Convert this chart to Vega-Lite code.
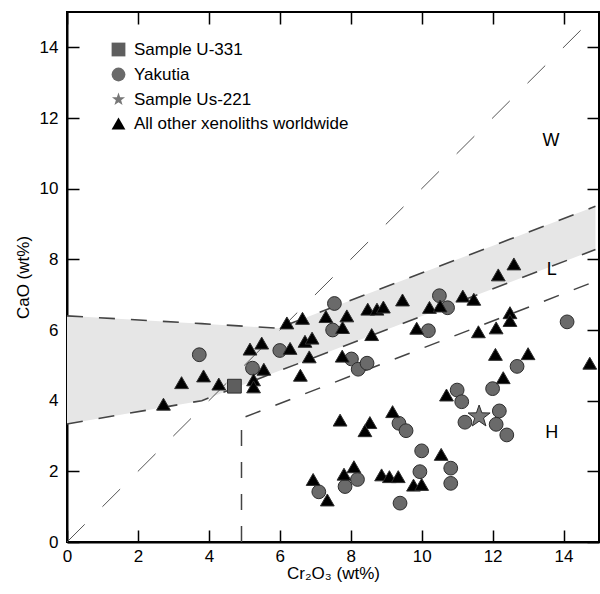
{
  "$schema": "https://vega.github.io/schema/vega-lite/v6.json",
  "width": 532,
  "height": 530,
  "autosize": "none",
  "padding": {"left": 67, "top": 12, "right": 1, "bottom": 52},
  "config": {
    "view": {"stroke": "#000", "strokeWidth": 2},
    "font": "Liberation Sans",
    "axis": {
      "labelFlush": false, "labelFontSize": 17, "labelColor": "#000", "labelOverlap": false,
      "ticks": false, "tickSize": 0,
      "domainColor": "#000", "domainWidth": 2,
      "grid": true, "gridColor": "#000", "gridOpacity": 1, "gridWidth": 1.5,
      "titleFontSize": 17, "titleFontWeight": "normal", "titleColor": "#000",
      "zindex": 1
    },
    "legend": {"padding": 0, "labelFontSize": 17, "labelColor": "#000", "symbolSize": 190, "rowPadding": 6, "labelOffset": 7, "labelLimit": 400, "symbolStrokeColor": "#2e2e2e", "symbolStrokeWidth": 1, "symbolOpacity": 1}
  },
  "datasets": {
    "band": [
      {"x": 0, "lower": 3.34, "upper": 6.40},
      {"x": 3.8, "lower": 4.0, "upper": 6.18},
      {"x": 5.95, "lower": 4.83, "upper": 6.05},
      {"x": 14.9, "lower": 8.28, "upper": 9.50}
    ],
    "hline": [
      {"x": 4.92, "y": 0},
      {"x": 4.92, "y": 3.50},
      {"x": 14.95, "y": 7.40}
    ],
    "diag": [
      {"x": 0, "y": 0},
      {"x": 14.5, "y": 14.5}
    ],
    "zones": [
      {"label": "W", "x": 13.65, "y": 11.35},
      {"label": "L", "x": 13.67, "y": 7.70},
      {"label": "H", "x": 13.67, "y": 3.09}
    ],
    "pts": [
      {"grp": "Yakutia", "x": 3.73, "y": 5.30},
      {"grp": "Yakutia", "x": 6.00, "y": 5.42},
      {"grp": "Yakutia", "x": 5.23, "y": 4.92},
      {"grp": "Yakutia", "x": 7.54, "y": 6.75},
      {"grp": "Yakutia", "x": 7.49, "y": 6.00},
      {"grp": "Yakutia", "x": 8.02, "y": 5.18},
      {"grp": "Yakutia", "x": 8.21, "y": 4.89},
      {"grp": "Yakutia", "x": 8.46, "y": 5.06},
      {"grp": "Yakutia", "x": 10.19, "y": 5.98},
      {"grp": "Yakutia", "x": 10.50, "y": 6.97},
      {"grp": "Yakutia", "x": 10.73, "y": 6.63},
      {"grp": "Yakutia", "x": 14.10, "y": 6.23},
      {"grp": "Yakutia", "x": 12.69, "y": 4.97},
      {"grp": "Yakutia", "x": 11.00, "y": 4.30},
      {"grp": "Yakutia", "x": 12.00, "y": 4.34},
      {"grp": "Yakutia", "x": 11.13, "y": 3.97},
      {"grp": "Yakutia", "x": 12.19, "y": 3.71},
      {"grp": "Yakutia", "x": 11.22, "y": 3.39},
      {"grp": "Yakutia", "x": 12.10, "y": 3.33},
      {"grp": "Yakutia", "x": 12.40, "y": 3.03},
      {"grp": "Yakutia", "x": 10.82, "y": 2.09},
      {"grp": "Yakutia", "x": 10.82, "y": 1.66},
      {"grp": "Yakutia", "x": 9.36, "y": 3.36},
      {"grp": "Yakutia", "x": 9.56, "y": 3.15},
      {"grp": "Yakutia", "x": 10.00, "y": 2.58},
      {"grp": "Yakutia", "x": 9.95, "y": 1.99},
      {"grp": "Yakutia", "x": 7.10, "y": 1.42},
      {"grp": "Yakutia", "x": 7.84, "y": 1.57},
      {"grp": "Yakutia", "x": 8.19, "y": 1.77},
      {"grp": "Yakutia", "x": 9.39, "y": 1.10},
      {"grp": "All other xenoliths worldwide", "x": 2.72, "y": 3.90},
      {"grp": "All other xenoliths worldwide", "x": 3.23, "y": 4.51},
      {"grp": "All other xenoliths worldwide", "x": 3.85, "y": 4.70},
      {"grp": "All other xenoliths worldwide", "x": 4.28, "y": 4.47},
      {"grp": "All other xenoliths worldwide", "x": 5.16, "y": 5.46},
      {"grp": "All other xenoliths worldwide", "x": 5.49, "y": 5.63},
      {"grp": "All other xenoliths worldwide", "x": 5.55, "y": 4.89},
      {"grp": "All other xenoliths worldwide", "x": 5.26, "y": 4.59},
      {"grp": "All other xenoliths worldwide", "x": 5.26, "y": 4.39},
      {"grp": "All other xenoliths worldwide", "x": 6.20, "y": 6.20},
      {"grp": "All other xenoliths worldwide", "x": 6.64, "y": 6.33},
      {"grp": "All other xenoliths worldwide", "x": 7.30, "y": 6.38},
      {"grp": "All other xenoliths worldwide", "x": 7.89, "y": 6.40},
      {"grp": "All other xenoliths worldwide", "x": 8.48, "y": 6.59},
      {"grp": "All other xenoliths worldwide", "x": 8.74, "y": 6.59},
      {"grp": "All other xenoliths worldwide", "x": 8.92, "y": 6.65},
      {"grp": "All other xenoliths worldwide", "x": 9.46, "y": 6.85},
      {"grp": "All other xenoliths worldwide", "x": 6.29, "y": 5.48},
      {"grp": "All other xenoliths worldwide", "x": 6.71, "y": 5.68},
      {"grp": "All other xenoliths worldwide", "x": 6.91, "y": 5.77},
      {"grp": "All other xenoliths worldwide", "x": 6.83, "y": 5.24},
      {"grp": "All other xenoliths worldwide", "x": 6.58, "y": 4.72},
      {"grp": "All other xenoliths worldwide", "x": 7.77, "y": 6.07},
      {"grp": "All other xenoliths worldwide", "x": 7.76, "y": 5.26},
      {"grp": "All other xenoliths worldwide", "x": 8.59, "y": 5.87},
      {"grp": "All other xenoliths worldwide", "x": 9.86, "y": 6.05},
      {"grp": "All other xenoliths worldwide", "x": 10.22, "y": 6.64},
      {"grp": "All other xenoliths worldwide", "x": 10.52, "y": 6.68},
      {"grp": "All other xenoliths worldwide", "x": 11.16, "y": 6.96},
      {"grp": "All other xenoliths worldwide", "x": 11.47, "y": 6.87},
      {"grp": "All other xenoliths worldwide", "x": 12.16, "y": 7.56},
      {"grp": "All other xenoliths worldwide", "x": 12.60, "y": 7.87},
      {"grp": "All other xenoliths worldwide", "x": 11.60, "y": 5.95},
      {"grp": "All other xenoliths worldwide", "x": 12.10, "y": 6.06},
      {"grp": "All other xenoliths worldwide", "x": 12.49, "y": 6.49},
      {"grp": "All other xenoliths worldwide", "x": 12.49, "y": 6.27},
      {"grp": "All other xenoliths worldwide", "x": 12.08, "y": 5.31},
      {"grp": "All other xenoliths worldwide", "x": 13.00, "y": 5.33},
      {"grp": "All other xenoliths worldwide", "x": 12.30, "y": 4.65},
      {"grp": "All other xenoliths worldwide", "x": 14.74, "y": 5.06},
      {"grp": "All other xenoliths worldwide", "x": 10.70, "y": 4.16},
      {"grp": "All other xenoliths worldwide", "x": 10.55, "y": 2.48},
      {"grp": "All other xenoliths worldwide", "x": 7.70, "y": 3.45},
      {"grp": "All other xenoliths worldwide", "x": 8.54, "y": 3.38},
      {"grp": "All other xenoliths worldwide", "x": 8.40, "y": 3.15},
      {"grp": "All other xenoliths worldwide", "x": 9.18, "y": 3.69},
      {"grp": "All other xenoliths worldwide", "x": 6.94, "y": 1.77},
      {"grp": "All other xenoliths worldwide", "x": 7.34, "y": 1.19},
      {"grp": "All other xenoliths worldwide", "x": 7.81, "y": 1.92},
      {"grp": "All other xenoliths worldwide", "x": 8.09, "y": 2.13},
      {"grp": "All other xenoliths worldwide", "x": 8.87, "y": 1.90},
      {"grp": "All other xenoliths worldwide", "x": 9.09, "y": 1.85},
      {"grp": "All other xenoliths worldwide", "x": 9.34, "y": 1.85},
      {"grp": "All other xenoliths worldwide", "x": 9.77, "y": 1.61},
      {"grp": "All other xenoliths worldwide", "x": 10.00, "y": 1.63},
      {"grp": "Sample U-331", "x": 4.72, "y": 4.41}
    ],
    "star": [
      {"grp": "Sample Us-221", "x": 11.62, "y": 3.55}
    ]
  },
  "resolve": {"axis": {"x": "independent", "y": "independent"}},
  "layer": [
    {
      "data": {"name": "band"},
      "mark": {"type": "area", "color": "#e6e6e6", "opacity": 1},
      "encoding": {
        "x": {"field": "x", "type": "quantitative", "scale": {"domain": [0, 15], "nice": false, "zero": false},
          "axis": {"orient": "bottom", "values": [0, 2, 4, 6, 8, 10, 12, 14], "labelPadding": 6,
            "title": "Cr₂O₃ (wt%)", "titlePadding": 1, "gridDash": [12, 506, 12]}},
        "y": {"field": "lower", "type": "quantitative", "scale": {"domain": [0, 15], "nice": false, "zero": false},
          "axis": {"orient": "left", "values": [0, 2, 4, 6, 8, 10, 12, 14], "labelPadding": 9,
            "title": "CaO (wt%)", "titlePadding": 7, "gridDash": [12, 508, 12]}},
        "y2": {"field": "upper"}
      }
    },
    {
      "data": {"name": "band"},
      "mark": {"type": "line", "color": "#444", "strokeWidth": 1.6, "strokeDash": [16, 16]},
      "encoding": {
        "x": {"field": "x", "type": "quantitative",
          "axis": {"orient": "top", "values": [1, 3, 5, 7, 9, 11, 13], "labels": false, "domain": false, "title": null, "gridDash": [8, 514, 8]}},
        "y": {"field": "upper", "type": "quantitative",
          "axis": {"orient": "right", "values": [1, 3, 5, 7, 9, 11, 13], "labels": false, "domain": false, "title": null, "gridDash": [8, 516, 8]}}
      }
    },
    {
      "data": {"name": "band"},
      "mark": {"type": "line", "color": "#444", "strokeWidth": 1.6, "strokeDash": [16, 16]},
      "encoding": {
        "x": {"field": "x", "type": "quantitative", "axis": null},
        "y": {"field": "lower", "type": "quantitative", "axis": null}
      }
    },
    {
      "data": {"name": "hline"},
      "mark": {"type": "line", "color": "#444", "strokeWidth": 1.5, "strokeDash": [16, 16]},
      "encoding": {
        "x": {"field": "x", "type": "quantitative", "axis": null},
        "y": {"field": "y", "type": "quantitative", "axis": null},
        "order": {"value": null}
      }
    },
    {
      "data": {"name": "diag"},
      "mark": {"type": "line", "color": "#555", "strokeWidth": 1, "strokeDash": [25, 25]},
      "encoding": {
        "x": {"field": "x", "type": "quantitative", "axis": null},
        "y": {"field": "y", "type": "quantitative", "axis": null}
      }
    },
    {
      "data": {"name": "zones"},
      "mark": {"type": "text", "fontSize": 18, "color": "#000", "align": "center", "baseline": "middle"},
      "encoding": {
        "x": {"field": "x", "type": "quantitative", "axis": null},
        "y": {"field": "y", "type": "quantitative", "axis": null},
        "text": {"field": "label"}
      }
    },
    {
      "data": {"name": "pts"},
      "mark": {"type": "point", "filled": true, "opacity": 1, "stroke": "#2e2e2e", "strokeWidth": 1, "size": 190},
      "encoding": {
        "x": {"field": "x", "type": "quantitative", "axis": null},
        "y": {"field": "y", "type": "quantitative", "axis": null},
        "shape": {"field": "grp", "type": "nominal", "title": null,
          "scale": {"domain": ["Sample U-331", "Yakutia", "Sample Us-221", "All other xenoliths worldwide"],
            "range": ["square", "circle", "M0,-1L0.235,-0.324L0.951,-0.309L0.38,0.124L0.588,0.809L0,0.4L-0.588,0.809L-0.38,0.124L-0.951,-0.309L-0.235,-0.324Z", "triangle-up"]},
          "legend": {"orient": "none", "legendX": 43, "legendY": 29, "title": null}},
        "color": {"field": "grp", "type": "nominal", "title": null,
          "scale": {"domain": ["Sample U-331", "Yakutia", "Sample Us-221", "All other xenoliths worldwide"],
            "range": ["#5e5e5e", "#6a6a6a", "#777777", "#000000"]},
          "legend": {"orient": "none", "legendX": 43, "legendY": 29, "title": null}}
      }
    },
    {
      "data": {"name": "star"},
      "mark": {"type": "point", "filled": true, "opacity": 1, "stroke": "#2e2e2e", "strokeWidth": 1, "size": 535},
      "encoding": {
        "x": {"field": "x", "type": "quantitative", "axis": null},
        "y": {"field": "y", "type": "quantitative", "axis": null},
        "shape": {"field": "grp", "type": "nominal", "title": null,
          "legend": {"orient": "none", "legendX": 43, "legendY": 29, "title": null}},
        "color": {"field": "grp", "type": "nominal", "title": null,
          "legend": {"orient": "none", "legendX": 43, "legendY": 29, "title": null}}
      }
    }
  ]
}
